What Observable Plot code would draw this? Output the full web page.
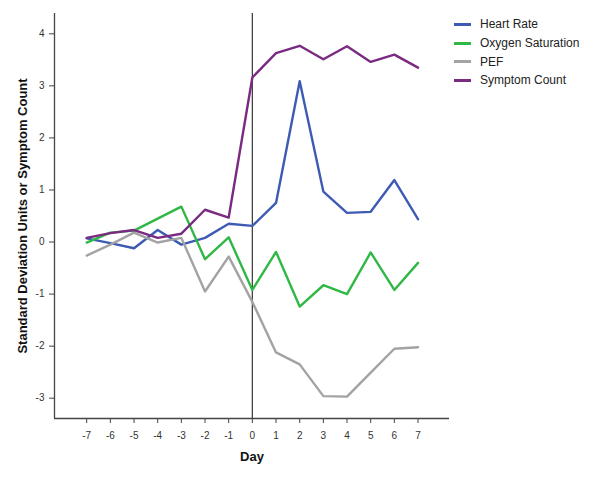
<!DOCTYPE html>
<html>
<head>
<meta charset="utf-8">
<script src="https://cdn.jsdelivr.net/npm/d3@7"></script>
<script src="https://cdn.jsdelivr.net/npm/@observablehq/plot@0.6"></script>
<style>
  html, body { margin: 0; padding: 0; background: #fff; }
  #wrap { position: relative; width: 600px; height: 480px; font-family: "Liberation Sans", Arial, sans-serif; }
  #legend { position: absolute; left: 454px; top: 15px; font-size: 12px; color: #222; }
  #legend .row { display: flex; align-items: center; height: 18.7px; }
  #legend .sw { width: 17px; height: 3px; margin-right: 9px; }
</style>
</head>
<body>
<div id="wrap"><div id="legend"></div></div>
<script>
const days = [-7, -6, -5, -4, -3, -2, -1, 0, 1, 2, 3, 4, 5, 6, 7];
const seriesNames = ["Heart Rate", "Oxygen Saturation", "PEF", "Symptom Count"];
const seriesColors = ["#3e5bb3", "#2fb845", "#a3a3a3", "#7a2a80"];
const heartRate = [0.07, -0.02, -0.12, 0.23, -0.05, 0.08, 0.35, 0.31, 0.75, 3.09, 0.97, 0.56, 0.58, 1.19, 0.44];
const oxygenSaturation = [-0.01, 0.18, 0.22, 0.45, 0.68, -0.33, 0.09, -0.92, -0.19, -1.24, -0.83, -1.00, -0.20, -0.92, -0.40];
const pef = [-0.26, -0.05, 0.18, -0.01, 0.08, -0.95, -0.28, -1.15, -2.12, -2.35, -2.96, -2.97, -2.51, -2.05, -2.02];
const symptomCount = [0.08, 0.17, 0.23, 0.08, 0.16, 0.62, 0.47, 3.16, 3.63, 3.77, 3.51, 3.76, 3.46, 3.60, 3.35];
const yTicks = [-3, -2, -1, 0, 1, 2, 3, 4];
const xDomain = [-8.36, 8.33];
const yDomain = [-3.39, 4.39];

const allSeries = [heartRate, oxygenSaturation, pef, symptomCount];
const rows = [];
allSeries.forEach((vals, i) => vals.forEach((v, j) => rows.push({series: seriesNames[i], day: days[j], value: v})));

const fmt = d => (d < 0 ? "-" + Math.abs(d) : String(d));

const chart = Plot.plot({
  width: 600,
  height: 480,
  marginLeft: 54,
  marginRight: 151,
  marginTop: 13,
  marginBottom: 62,
  style: {fontFamily: "'Liberation Sans', Arial, sans-serif", fontSize: "10px", color: "#333", background: "#fff"},
  x: {domain: xDomain},
  y: {domain: yDomain},
  color: {domain: seriesNames, range: seriesColors},
  marks: [
    Plot.ruleX([xDomain[0]], {stroke: "#444", strokeWidth: 1.3}),
    Plot.ruleY([yDomain[0]], {stroke: "#444", strokeWidth: 1.3}),
    Plot.axisX(days, {tickSize: 5, tickPadding: 8, stroke: "#444", fill: "#333", fontSize: 10, tickFormat: fmt, label: null}),
    Plot.axisY(yTicks, {tickSize: 5, tickPadding: 5, stroke: "#444", fill: "#333", fontSize: 10, tickFormat: fmt, label: null}),
    Plot.ruleX([0], {stroke: "#444", strokeWidth: 1.3}),
    Plot.line(rows, {x: "day", y: "value", z: "series", stroke: "series", strokeWidth: 2.4, curve: "linear"}),
    Plot.text(["Day"], {frameAnchor: "bottom", dy: 42, fontWeight: "bold", fontSize: 13, fill: "#111"}),
    Plot.text(["Standard Deviation Units or Symptom Count"], {frameAnchor: "left", textAnchor: "middle", dx: -32, rotate: -90, fontWeight: "bold", fontSize: 13, fill: "#111"})
  ]
});
const wrap = document.getElementById("wrap");
wrap.insertBefore(chart, wrap.firstChild);

const legend = document.getElementById("legend");
seriesNames.forEach((name, i) => {
  const row = document.createElement("div");
  row.className = "row";
  const sw = document.createElement("span");
  sw.className = "sw";
  sw.style.background = seriesColors[i];
  const label = document.createElement("span");
  label.textContent = name;
  row.appendChild(sw);
  row.appendChild(label);
  legend.appendChild(row);
});
</script>
</body>
</html>
